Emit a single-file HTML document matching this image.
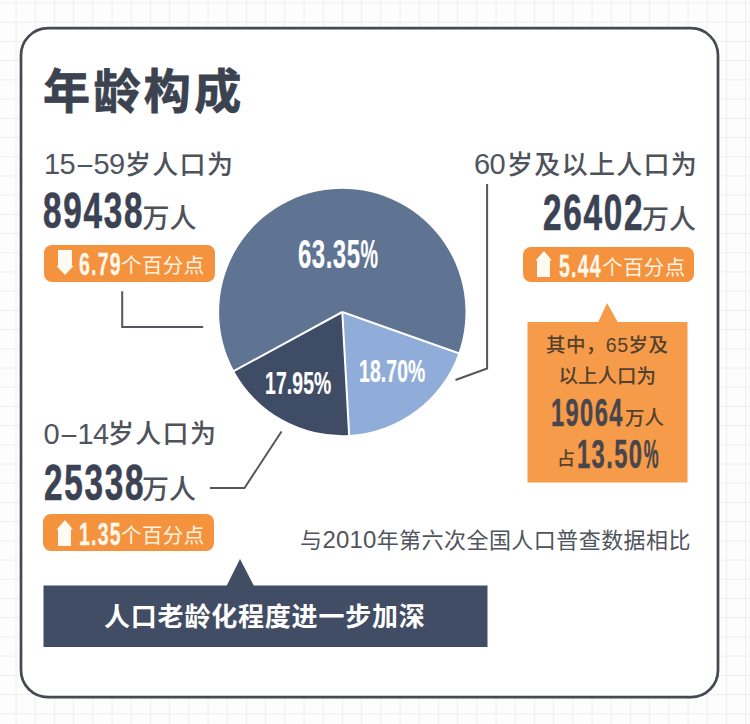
<!DOCTYPE html>
<html><head><meta charset="utf-8"><style>
html,body{margin:0;padding:0;}
body{width:750px;height:724px;position:relative;overflow:hidden;background:#fdfdfd;font-family:"Liberation Sans","Noto Sans CJK SC",sans-serif;}
.a{position:absolute;white-space:nowrap;line-height:1;}
.t{font-family:"Noto Sans CJK SC",sans-serif;font-weight:700;font-size:47px;letter-spacing:3.4px;color:#3c4350;-webkit-text-stroke:0.8px #3c4350;}
.lab{font-size:27px;color:#50545c;font-weight:400;}
.d{font-family:"Liberation Sans",sans-serif;font-size:29px;letter-spacing:-0.6px;color:#50545c;}
.dash{display:inline-block;margin:0 1px 0 2px;transform:scaleX(0.9);}
.c{font-family:"Noto Sans CJK SC",sans-serif;font-size:26px;letter-spacing:1.3px;color:#4e525a;font-weight:500;}
.num{font-family:"DejaVu Sans",sans-serif;font-stretch:condensed;font-weight:700;display:inline-block;transform-origin:0 0;}
.big{font-family:"Liberation Sans",sans-serif;font-stretch:normal;font-size:50px;color:#3b4254;transform:scaleX(0.665);letter-spacing:2.6px;-webkit-text-stroke:0.7px #3b4254;}
.unit{font-family:"Noto Sans CJK SC",sans-serif;font-size:27px;color:#4e525a;font-weight:500;}
.badge{position:absolute;background:#f4923d;border-radius:8px;}
.bn{font-family:"Liberation Sans",sans-serif;font-stretch:normal;font-size:31.5px;color:#fff8ec;transform:scaleX(0.62);letter-spacing:2px;-webkit-text-stroke:0.3px #fff8ec;}
.bc{font-family:"Noto Sans CJK SC",sans-serif;font-size:20.5px;letter-spacing:0.4px;color:#fff4e2;}
.ico{position:absolute;}
.pc{display:inline-block;transform:scaleX(0.82);transform-origin:0 0;}
.pl{font-family:"Liberation Sans",sans-serif;font-stretch:normal;font-size:40px;color:#ffffff;transform:scaleX(0.6);letter-spacing:0.8px;-webkit-text-stroke:0.2px #ffffff;}
.pl2{font-family:"Liberation Sans",sans-serif;font-stretch:normal;font-size:31px;color:#ffffff;transform:scaleX(0.625);letter-spacing:0.2px;-webkit-text-stroke:0.2px #ffffff;}
.bx{font-family:"Liberation Sans","Noto Sans CJK SC",sans-serif;font-size:19.5px;color:#52412f;font-weight:500;}
.bxn{font-family:"Liberation Sans",sans-serif;font-stretch:normal;font-size:39.5px;color:#48464c;transform:scaleX(0.6);letter-spacing:2.3px;-webkit-text-stroke:0.4px #48464c;}
.bxn2{font-family:"Liberation Sans",sans-serif;font-stretch:normal;font-size:41px;color:#48464c;transform:scaleX(0.58);letter-spacing:2.4px;-webkit-text-stroke:0.4px #48464c;}
.foot{font-family:"Liberation Sans","Noto Sans CJK SC",sans-serif;font-size:22px;letter-spacing:0.45px;color:#50545c;}
.foot .fd{font-size:24px;letter-spacing:0.2px;}
.ban{font-family:"Noto Sans CJK SC",sans-serif;font-weight:700;font-size:26px;color:#ffffff;letter-spacing:0.8px;}
</style></head><body>
<svg width="750" height="724" style="position:absolute;left:0;top:0">
<g stroke="#eeeeee" stroke-width="1"><line x1="16.0" y1="0" x2="16.0" y2="724"/><line x1="35.2" y1="0" x2="35.2" y2="724"/><line x1="54.4" y1="0" x2="54.4" y2="724"/><line x1="73.6" y1="0" x2="73.6" y2="724"/><line x1="92.8" y1="0" x2="92.8" y2="724"/><line x1="112.0" y1="0" x2="112.0" y2="724"/><line x1="131.2" y1="0" x2="131.2" y2="724"/><line x1="150.4" y1="0" x2="150.4" y2="724"/><line x1="169.6" y1="0" x2="169.6" y2="724"/><line x1="188.8" y1="0" x2="188.8" y2="724"/><line x1="208.0" y1="0" x2="208.0" y2="724"/><line x1="227.2" y1="0" x2="227.2" y2="724"/><line x1="246.4" y1="0" x2="246.4" y2="724"/><line x1="265.6" y1="0" x2="265.6" y2="724"/><line x1="284.8" y1="0" x2="284.8" y2="724"/><line x1="304.0" y1="0" x2="304.0" y2="724"/><line x1="323.2" y1="0" x2="323.2" y2="724"/><line x1="342.4" y1="0" x2="342.4" y2="724"/><line x1="361.6" y1="0" x2="361.6" y2="724"/><line x1="380.8" y1="0" x2="380.8" y2="724"/><line x1="400.0" y1="0" x2="400.0" y2="724"/><line x1="419.2" y1="0" x2="419.2" y2="724"/><line x1="438.4" y1="0" x2="438.4" y2="724"/><line x1="457.6" y1="0" x2="457.6" y2="724"/><line x1="476.8" y1="0" x2="476.8" y2="724"/><line x1="496.0" y1="0" x2="496.0" y2="724"/><line x1="515.2" y1="0" x2="515.2" y2="724"/><line x1="534.4" y1="0" x2="534.4" y2="724"/><line x1="553.6" y1="0" x2="553.6" y2="724"/><line x1="572.8" y1="0" x2="572.8" y2="724"/><line x1="592.0" y1="0" x2="592.0" y2="724"/><line x1="611.2" y1="0" x2="611.2" y2="724"/><line x1="630.4" y1="0" x2="630.4" y2="724"/><line x1="649.6" y1="0" x2="649.6" y2="724"/><line x1="668.8" y1="0" x2="668.8" y2="724"/><line x1="688.0" y1="0" x2="688.0" y2="724"/><line x1="707.2" y1="0" x2="707.2" y2="724"/><line x1="726.4" y1="0" x2="726.4" y2="724"/><line x1="745.6" y1="0" x2="745.6" y2="724"/><line x1="0" y1="3.0" x2="750" y2="3.0"/><line x1="0" y1="22.2" x2="750" y2="22.2"/><line x1="0" y1="41.4" x2="750" y2="41.4"/><line x1="0" y1="60.6" x2="750" y2="60.6"/><line x1="0" y1="79.8" x2="750" y2="79.8"/><line x1="0" y1="99.1" x2="750" y2="99.1"/><line x1="0" y1="118.3" x2="750" y2="118.3"/><line x1="0" y1="137.5" x2="750" y2="137.5"/><line x1="0" y1="156.7" x2="750" y2="156.7"/><line x1="0" y1="175.9" x2="750" y2="175.9"/><line x1="0" y1="195.1" x2="750" y2="195.1"/><line x1="0" y1="214.3" x2="750" y2="214.3"/><line x1="0" y1="233.5" x2="750" y2="233.5"/><line x1="0" y1="252.7" x2="750" y2="252.7"/><line x1="0" y1="271.9" x2="750" y2="271.9"/><line x1="0" y1="291.2" x2="750" y2="291.2"/><line x1="0" y1="310.4" x2="750" y2="310.4"/><line x1="0" y1="329.6" x2="750" y2="329.6"/><line x1="0" y1="348.8" x2="750" y2="348.8"/><line x1="0" y1="368.0" x2="750" y2="368.0"/><line x1="0" y1="387.2" x2="750" y2="387.2"/><line x1="0" y1="406.4" x2="750" y2="406.4"/><line x1="0" y1="425.6" x2="750" y2="425.6"/><line x1="0" y1="444.8" x2="750" y2="444.8"/><line x1="0" y1="464.0" x2="750" y2="464.0"/><line x1="0" y1="483.2" x2="750" y2="483.2"/><line x1="0" y1="502.5" x2="750" y2="502.5"/><line x1="0" y1="521.7" x2="750" y2="521.7"/><line x1="0" y1="540.9" x2="750" y2="540.9"/><line x1="0" y1="560.1" x2="750" y2="560.1"/><line x1="0" y1="579.3" x2="750" y2="579.3"/><line x1="0" y1="598.5" x2="750" y2="598.5"/><line x1="0" y1="617.7" x2="750" y2="617.7"/><line x1="0" y1="636.9" x2="750" y2="636.9"/><line x1="0" y1="656.1" x2="750" y2="656.1"/><line x1="0" y1="675.4" x2="750" y2="675.4"/><line x1="0" y1="694.6" x2="750" y2="694.6"/><line x1="0" y1="713.8" x2="750" y2="713.8"/></g>
<rect x="21" y="28.2" width="697" height="669" rx="27" ry="27" fill="#ffffff" stroke="#464952" stroke-width="2.7"/>
<path d="M342.3,312 L458.43,353.13 A123.2,123.2 0 0 1 349.13,435.01 Z" fill="#90acd8"/><path d="M342.3,312 L349.13,435.01 A123.2,123.2 0 0 1 234.09,370.90 Z" fill="#3f4c65"/><path d="M342.3,312 L234.09,370.90 A123.2,123.2 0 1 1 458.43,353.13 Z" fill="#5f7392"/>
<g stroke="#ffffff" stroke-width="2"><line x1="342.3" y1="312" x2="459.38" y2="353.46"/><line x1="342.3" y1="312" x2="349.19" y2="436.01"/><line x1="342.3" y1="312" x2="233.21" y2="371.38"/></g>
<g stroke="#55575e" stroke-width="2" fill="none">
<polyline points="122.2,291.3 122.2,327 203.2,327"/>
<polyline points="487.1,184 487.1,368.5 455.5,380"/>
<polyline points="210,488 244.5,488 281.5,431.5"/>
</g>
<path d="M598,322.5 L607,303 L618,322.5 Z" fill="#f69b4a"/>
<rect x="527.5" y="322" width="160" height="160.5" fill="#f69b4a"/>
<path d="M226.5,586 L240,559 L254,586 Z" fill="#414d64"/>
<rect x="43.5" y="585.5" width="444" height="61.5" fill="#414d64"/>
</svg>
<div class="a t" style="left:43px;top:63.5px">年龄构成</div>

<div class="a d" style="left:44px;top:150px">15<span class="dash">–</span>59</div><div class="a c" style="left:125px;top:150px">岁人口为</div>
<div class="a" style="left:43px;top:186px"><span class="num big">89438</span></div>
<div class="a unit" style="left:142.5px;top:203px">万人</div>
<div class="badge" style="left:43.5px;top:245px;width:171.5px;height:36.5px"></div>
<div class="a" style="left:55.5px;top:250px"><svg class="ico" width="18" height="26" viewBox="0 0 18 26"><path d="M2,0 H16 V16 H17.5 L9,25 L0.5,16 H2 Z" fill="#fffaf2"/></svg></div>
<div class="a" style="left:79px;top:249px"><span class="num bn">6.79</span></div>
<div class="a bc" style="left:121px;top:254px">个百分点</div>

<div class="a d" style="left:474px;top:150px">60</div><div class="a c" style="left:507px;top:150px">岁及以上人口为</div>
<div class="a" style="left:542.5px;top:187.5px"><span class="num big">26402</span></div>
<div class="a unit" style="left:642px;top:203.5px">万人</div>
<div class="badge" style="left:523px;top:247px;width:170.5px;height:35px"></div>
<div class="a" style="left:535px;top:251.2px"><svg class="ico" width="18" height="27" viewBox="0 0 18 27"><path d="M9,0 L17,9.5 H15 V26 H2 V9.5 H0.5 Z" fill="#fffaf2"/></svg></div>
<div class="a" style="left:559px;top:251px"><span class="num bn">5.44</span></div>
<div class="a bc" style="left:602px;top:256px">个百分点</div>

<div class="a d" style="left:43.5px;top:419.5px">0<span class="dash">–</span>14</div><div class="a c" style="left:108px;top:419px">岁人口为</div>
<div class="a" style="left:43.5px;top:457.5px"><span class="num big">25338</span></div>
<div class="a unit" style="left:142px;top:473.5px">万人</div>
<div class="badge" style="left:43.2px;top:514.3px;width:171px;height:37px"></div>
<div class="a" style="left:56px;top:520px"><svg class="ico" width="18" height="27" viewBox="0 0 18 27"><path d="M9,0 L17,9.5 H15 V26 H2 V9.5 H0.5 Z" fill="#fffaf2"/></svg></div>
<div class="a" style="left:79px;top:519px"><span class="num bn">1.35</span></div>
<div class="a bc" style="left:121px;top:524px">个百分点</div>

<div class="a" style="left:297.5px;top:233.5px"><span class="num pl">63.35<span class="pc">%</span></span></div>
<div class="a" style="left:265px;top:368px"><span class="num pl2">17.95%</span></div>
<div class="a" style="left:359px;top:356px"><span class="num pl2">18.70%</span></div>

<div class="a bx" style="left:546px;top:336px;letter-spacing:0.45px">其中，65岁及</div>
<div class="a bx" style="left:558.5px;top:366.5px">以上人口为</div>
<div class="a" style="left:551px;top:393.2px"><span class="num bxn">19064</span></div>
<div class="a bx" style="left:625px;top:409px">万人</div>
<div class="a bx" style="left:557px;top:450px;font-size:18px;font-weight:500">占</div>
<div class="a" style="left:576.5px;top:433.8px"><span class="num bxn2">13.50<span class="pc" style="transform:scaleX(0.7)">%</span></span></div>

<div class="a foot" style="left:300px;top:528px">与<span class="fd">2010</span>年第六次全国人口普查数据相比</div>
<div class="a ban" style="left:104px;top:602px">人口老龄化程度进一步加深</div>
</body></html>
